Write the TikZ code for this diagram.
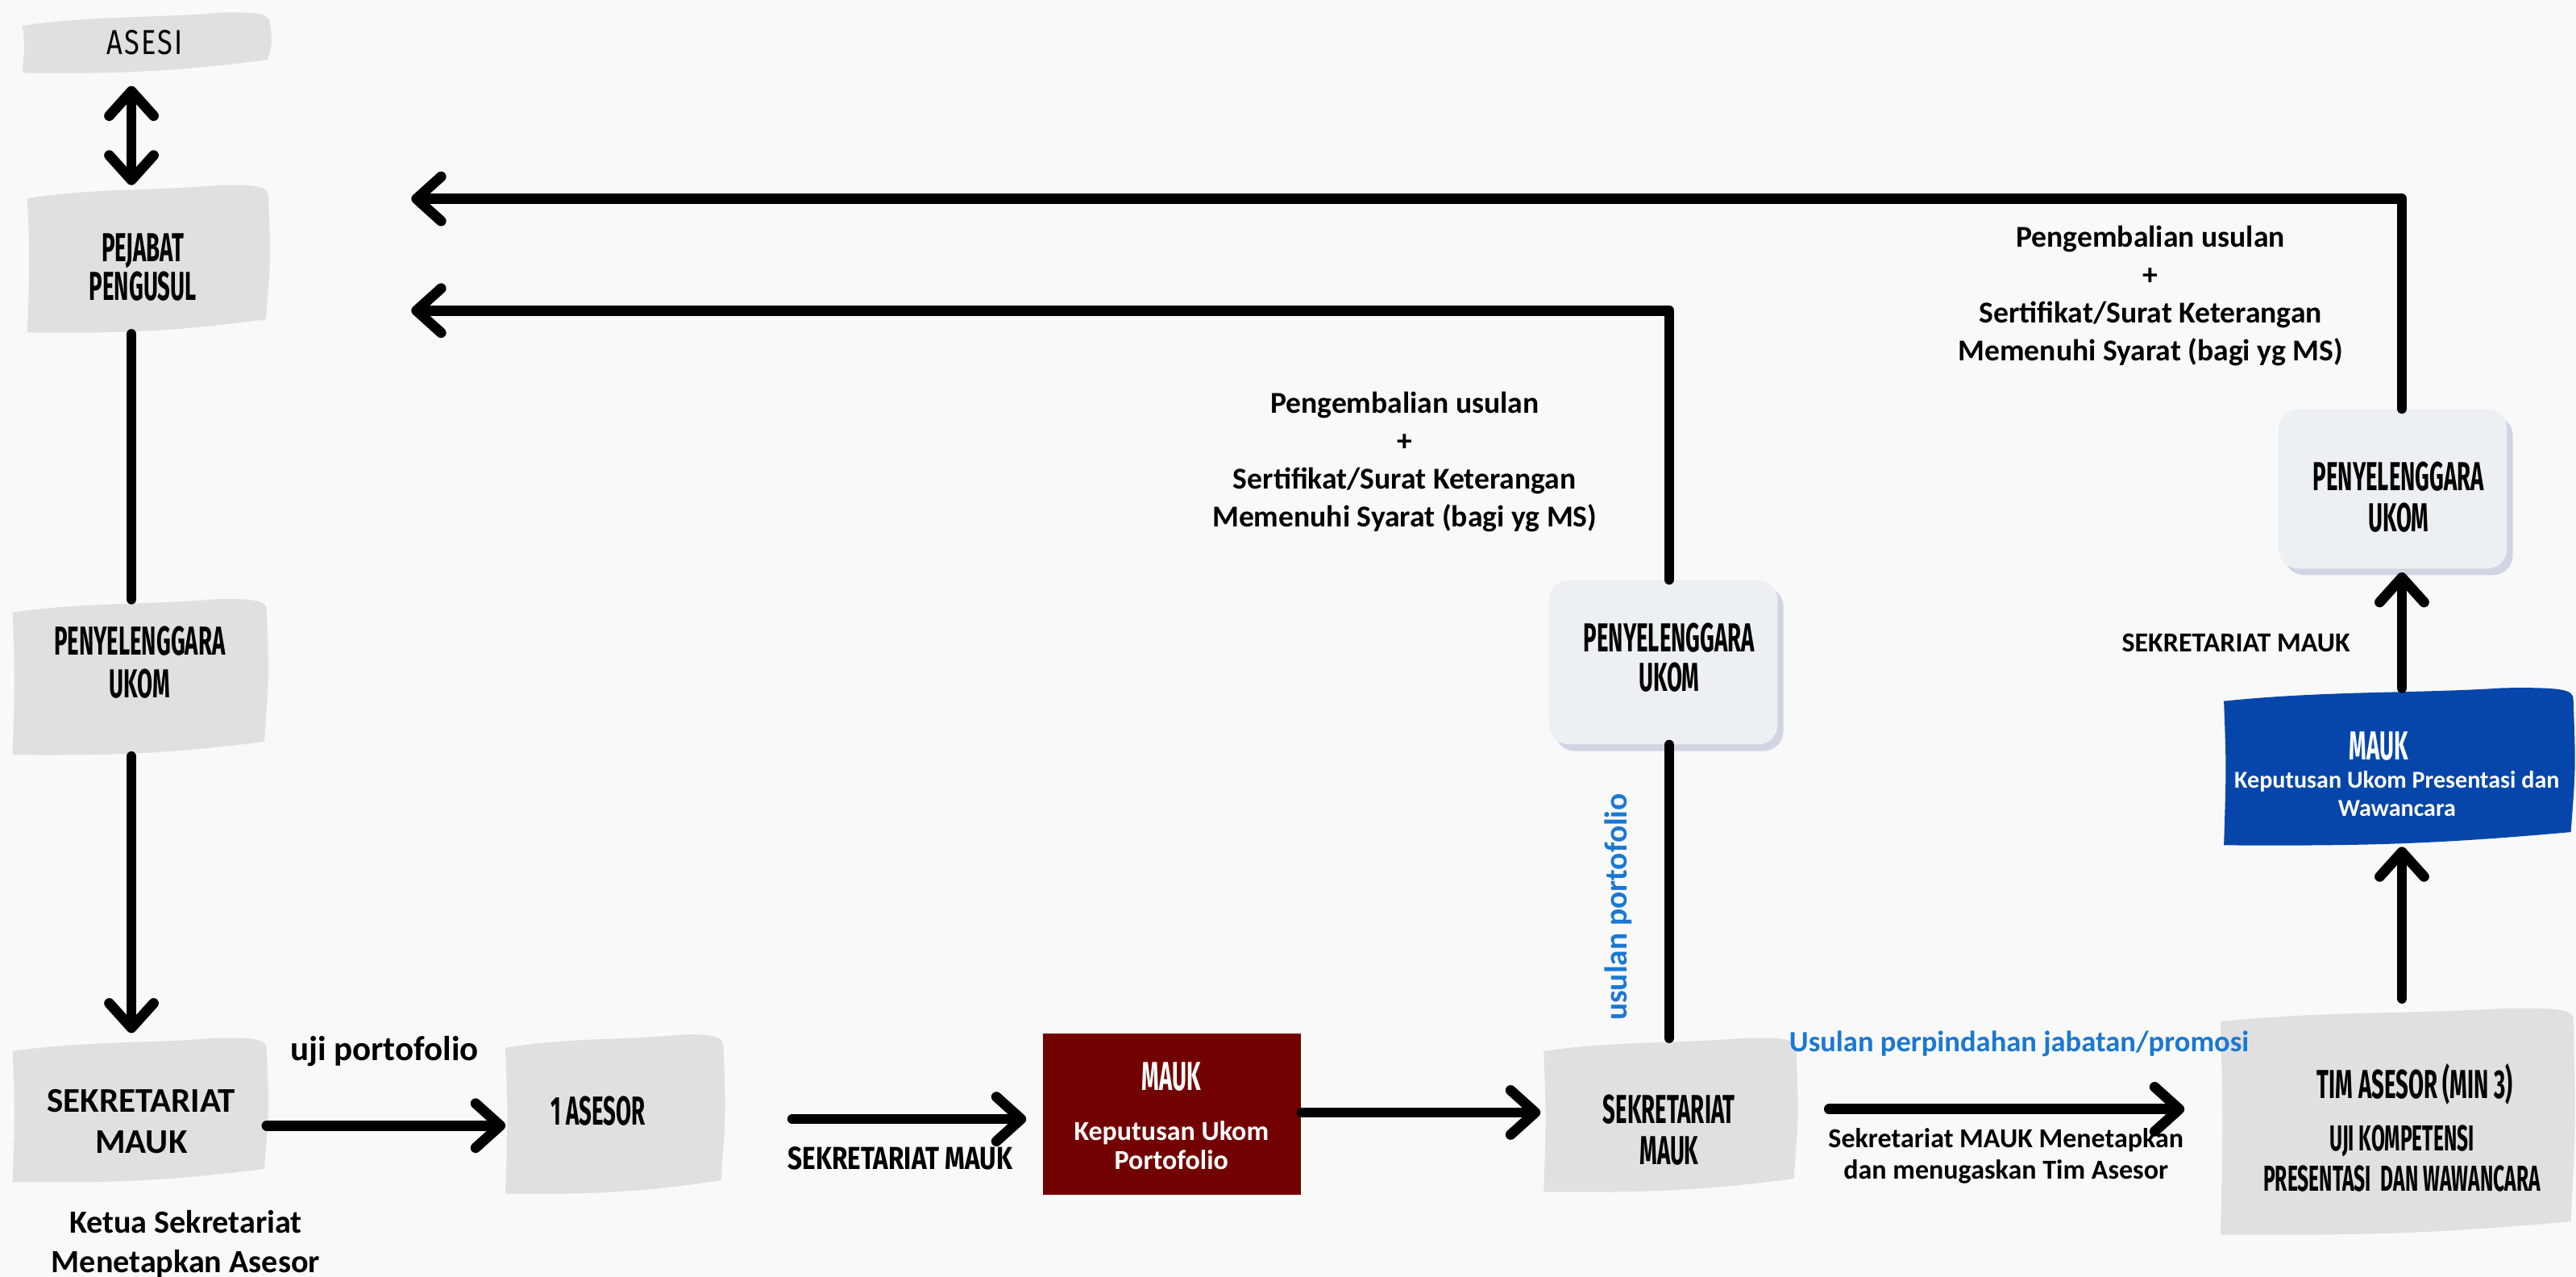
\documentclass[tikz,border=0pt]{standalone}
\usepackage{fontspec}
\setmainfont{Carlito}
\newfontfamily\condf[FakeStretch=0.55]{Fira Sans}
\newfontfamily\condg[FakeStretch=0.8]{Fira Sans}
\usetikzlibrary{arrows.meta,calc,shadows}
\pgfdeclarelayer{canvas}
\pgfdeclarelayer{background}
\pgfsetlayers{canvas,background,main}
\definecolor{bgc}{HTML}{F9F9F9}
\definecolor{boxg}{HTML}{E0E0E0}
\definecolor{mred}{HTML}{730000}
\definecolor{mblue}{HTML}{0646AA}
\definecolor{tblue}{HTML}{1A78D2}
\definecolor{lbox}{HTML}{ECF0F2}
\definecolor{shd}{HTML}{CDD1E0}

\newcommand\wavyfill[2]{%
\begin{pgfonlayer}{background}
\fill[#2] ($(#1.north west)+(0,-1.6mm)$)
 .. controls ($(#1.north west)!0.3!(#1.north east)+(0,-0.3mm)$) and ($(#1.north west)!0.55!(#1.north east)+(0,-0.7mm)$) .. ($(#1.north west)!0.8!(#1.north east)+(0,0mm)$)
 .. controls ($(#1.north east)+(-1.2mm,0.1mm)$) and ($(#1.north east)+(0,-0.2mm)$) .. ($(#1.north east)+(0,-1.4mm)$)
 .. controls ($(#1.east)+(0.3mm,0)$) .. ($(#1.south east)+(-0.3mm,1.8mm)$)
 .. controls ($(#1.south east)!0.4!(#1.south west)+(0,0.3mm)$) and ($(#1.south east)!0.6!(#1.south west)+(0,0.1mm)$) .. ($(#1.south west)+(0,0.2mm)$)
 .. controls ($(#1.west)+(0.3mm,0)$) .. ($(#1.north west)+(0,-1.6mm)$) -- cycle;
\end{pgfonlayer}}

\begin{document}
\begin{tikzpicture}[x=0.2mm,y=-0.2mm,
  wbox/.style 2 args={minimum width=#1*0.2mm, minimum height=#2*0.2mm, inner sep=0pt, draw=none},
  lightbox/.style 2 args={wbox={#1}{#2}, fill=lbox, rounded corners=2.4mm,
     drop shadow={shadow xshift=0.7mm, shadow yshift=-0.8mm, fill=shd, opacity=0.9}},
  txt/.style={inner sep=0pt, align=center},
  conn/.style={line width=1.25mm, line cap=round, line join=round},
  arr/.style={conn, -{Straight Barb[length=3mm,width=5.4mm,round]}},
  darr/.style={conn, {Straight Barb[length=3mm,width=5.4mm,round]}-{Straight Barb[length=3mm,width=5.4mm,round]}}
]
\begin{pgfonlayer}{canvas}
\fill[bgc] (0,0) rectangle (1568,777);
\end{pgfonlayer}
\useasboundingbox (0,0) rectangle (1568,777);

% boxes
\node[wbox={150}{37}] (asesi) at (89,26.5) {};
\node[wbox={146}{90}] (pejabat) at (90,158) {};
\node[wbox={154}{95}] (penyl) at (85,412.5) {};
\node[wbox={154}{88}] (sekl) at (85,676) {};
\node[wbox={132}{97}] (asesor) at (374,678.5) {};
\node[wbox={157}{98}, fill=mred] (red) at (713.5,678) {};
\node[wbox={153}{94}] (sekr) at (1016.5,679) {};
\node[lightbox={139}{100}] (penym) at (1012.5,403) {};
\node[wbox={214}{138}] (tim) at (1459,683) {};
\node[wbox={212}{96}] (blue) at (1460,467) {};
\node[lightbox={139}{97}] (penyr) at (1456.5,297.5) {};

\wavyfill{asesi}{boxg}
\wavyfill{pejabat}{boxg}
\wavyfill{penyl}{boxg}
\wavyfill{sekl}{boxg}
\wavyfill{asesor}{boxg}
\wavyfill{sekr}{boxg}
\wavyfill{tim}{boxg}
\wavyfill{blue}{mblue}

\coordinate (colL) at (80,0);
\coordinate (colM) at (1016,0);
\coordinate (colR) at (1462,0);

% connectors
\draw[darr, shorten <=1.4mm] (asesi.south -| colL) -- (pejabat.north -| colL);
\draw[conn] (pejabat.south -| colL) -- (penyl.north -| colL);
\draw[arr, shorten >=0.6mm] (penyl.south -| colL) -- (sekl.north -| colL);
\draw[arr] ([yshift=-1.8mm]sekl.east) -- ([yshift=-1.8mm]sekl.east -| asesor.west);
\draw[arr, shorten <=8.4mm, shorten >=2mm] ([yshift=-0.5mm]asesor.east) -- ([yshift=-0.5mm]asesor.east -| red.west);
\draw[arr, shorten >=0.4mm] ([yshift=0.2mm]red.east) -- ([yshift=0.2mm]red.east -| sekr.west);
\draw[conn] (sekr.north -| colM) -- (penym.south -| colM);
\draw[arr, shorten >=17.4mm] (penym.north -| colM) |- ([yshift=-6.2mm]pejabat.east);
\draw[arr, shorten <=4mm, shorten >=4.4mm] ([yshift=0.8mm]sekr.east) -- ([yshift=0.8mm]sekr.east -| tim.west);
\draw[arr, shorten <=1.2mm] (tim.north -| colR) -- (blue.south -| colR);
\draw[arr, shorten >=0.4mm] (blue.north -| colR) -- (penyr.south -| colR);
\draw[arr, shorten >=17.4mm] (penyr.north -| colR) |- ([yshift=7.4mm]pejabat.east);

% texts
\node[txt, font=\condg\addfontfeatures{LetterSpace=5}\fontsize{12}{14}\selectfont] (asesi-t) at (88,26) {ASESI};
\node[txt, font=\condf\bfseries\fontsize{14}{12}\selectfont] (pejabat-t) at (87,162.5) {PEJABAT\\PENGUSUL};
\node[txt, font=\condf\bfseries\fontsize{14}{14.8}\selectfont] (penyl-t) at (85,403) {PENYELENGGARA\\UKOM};
\node[txt, font=\bfseries\fontsize{12}{14.2}\selectfont] (sekl-t) at (86,682.5) {SEKRETARIAT\\MAUK};
\node[txt, font=\bfseries\fontsize{12}{14}\selectfont] (uji) at (234,640) {uji portofolio};
\node[txt, font=\bfseries\fontsize{11.2}{13.7}\selectfont] (ketua) at (113,757) {Ketua Sekretariat\\Menetapkan Asesor};
\node[txt, font=\condf\bfseries\fontsize{14}{14}\selectfont] (asesor-t) at (364,676) {1 ASESOR};
\node[txt, font=\condg\bfseries\fontsize{11}{13}\selectfont] (sm1) at (548,705) {SEKRETARIAT MAUK};
\node[txt, white, font=\condf\bfseries\fontsize{14}{14}\selectfont] (red-t1) at (713,655) {MAUK};
\node[txt, white, font=\bfseries\fontsize{9.5}{10.2}\selectfont] (red-t2) at (713,697) {Keputusan Ukom\\Portofolio};
\node[txt, font=\condf\bfseries\fontsize{14}{14.2}\selectfont] (sekr-t) at (1016,687.5) {SEKRETARIAT\\MAUK};
\node[txt, font=\condf\bfseries\fontsize{14}{13.7}\selectfont] (penym-t) at (1016,400) {PENYELENGGARA\\UKOM};
\node[txt, font=\bfseries\fontsize{10.5}{13.1}\selectfont] (kemb1) at (855,281) {Pengembalian usulan\\+\\Sertifikat/Surat Keterangan\\Memenuhi Syarat (bagi yg MS)};
\node[txt, font=\bfseries\fontsize{10.5}{13.1}\selectfont] (kemb2) at (1309,180) {Pengembalian usulan\\+\\Sertifikat/Surat Keterangan\\Memenuhi Syarat (bagi yg MS)};
\node[txt, tblue, rotate=90, font=\bfseries\fontsize{11}{13}\selectfont] (usulp) at (985,552) {usulan portofolio};
\node[txt, tblue, font=\bfseries\fontsize{10.2}{12}\selectfont] (usulpj) at (1229,635) {Usulan perpindahan jabatan/promosi};
\node[txt, font=\bfseries\fontsize{9.5}{10.8}\selectfont] (tetap) at (1221,703.5) {Sekretariat MAUK Menetapkan\\dan menugaskan Tim Asesor};
\node[txt, font=\condf\bfseries\fontsize{14}{14}\selectfont] (tim-t1) at (1470,660) {TIM ASESOR (MIN 3)};
\node[txt, font=\condf\bfseries\fontsize{12.5}{13.7}\selectfont] (tim-t2) at (1462,705) {UJI KOMPETENSI\\PRESENTASI\ \ DAN WAWANCARA};
\node[txt, white, font=\condf\bfseries\fontsize{14}{14}\selectfont] (blue-t1) at (1448,454) {MAUK};
\node[txt, white, font=\bfseries\fontsize{8.4}{9.7}\selectfont] (blue-t2) at (1459,483) {Keputusan Ukom Presentasi dan\\Wawancara};
\node[txt, font=\bfseries\fontsize{9.5}{12}\selectfont] (sm2) at (1361,391) {SEKRETARIAT MAUK};
\node[txt, font=\condf\bfseries\fontsize{14}{14.2}\selectfont] (penyr-t) at (1460,302.5) {PENYELENGGARA\\UKOM};
\end{tikzpicture}
\end{document}
